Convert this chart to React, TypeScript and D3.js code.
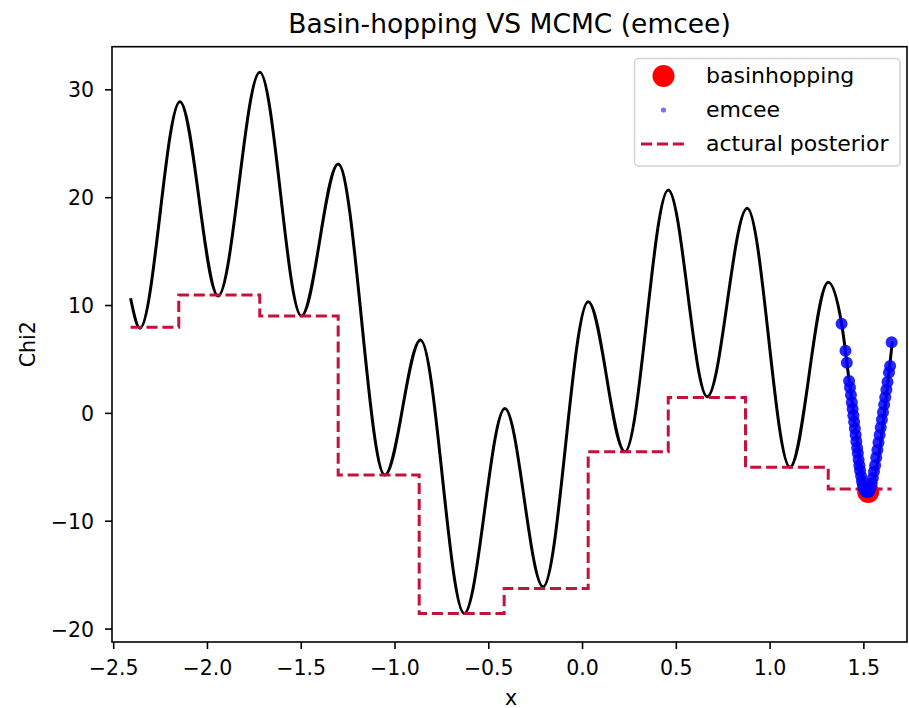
import React from "react";
import * as d3 from "d3";

// Chi2 landscape sampled along x
const curveX = [-2.41, -2.36, -2.147, -1.943, -1.721, -1.499, -1.303, -1.054, -0.864, -0.631, -0.414, -0.21, 0.03, 0.226, 0.457, 0.665, 0.878, 1.106, 1.31, 1.381, 1.426, 1.523, 1.652];
const curveY = [10.67, 7.89, 28.9, 10.88, 31.63, 9.03, 23.13, -5.72, 6.8, -18.55, 0.46, -16.08, 10.35, -3.56, 20.71, 1.54, 19.02, -5.0, 12.15, 8.35, 2.47, -7.3, 6.7];

// Actual posterior: piecewise-constant levels between the edges
const stepEdges = [-2.41, -2.153, -1.721, -1.303, -0.871, -0.418, 0.03, 0.457, 0.869, 1.31, 1.648];
const stepLevels = [7.98, 10.97, 9.02, -5.72, -18.55, -16.23, -3.56, 1.48, -5.0, -7.02];

// Basin-hopping optimum
const bhX = [1.523];
const bhY = [-7.3];

// emcee samples
const emceeX = [1.381, 1.402, 1.409, 1.421, 1.426, 1.431, 1.436, 1.44, 1.444, 1.448, 1.452, 1.456, 1.46, 1.464, 1.468, 1.472, 1.476, 1.48, 1.485, 1.49, 1.495, 1.5, 1.506, 1.512, 1.518, 1.524, 1.53, 1.536, 1.542, 1.548, 1.554, 1.56, 1.566, 1.572, 1.578, 1.584, 1.59, 1.596, 1.602, 1.608, 1.614, 1.62, 1.626, 1.634, 1.64, 1.648];
const emceeY = [8.3, 5.8, 4.7, 3.0, 2.4, 1.7, 1.0, 0.4, -0.2, -0.8, -1.4, -2.0, -2.6, -3.2, -3.7, -4.3, -4.8, -5.3, -5.8, -6.3, -6.7, -7.0, -7.2, -7.3, -7.3, -7.3, -7.2, -6.9, -6.5, -6.0, -5.4, -4.8, -4.1, -3.4, -2.7, -2.0, -1.3, -0.6, 0.1, 0.8, 1.5, 2.2, 2.9, 3.8, 4.4, 6.6];

const xTicks = [-2.5, -2.0, -1.5, -1.0, -0.5, 0.0, 0.5, 1.0, 1.5];
const yTicks = [-20, -10, 0, 10, 20, 30];

const legendLabels = ["basinhopping", "emcee", "actural posterior"];

const W = 909;
const H = 708;
const left = 112;
const right = 907;
const top = 46.7;
const bottom = 642;

const FONT = "'DejaVu Sans', sans-serif";
const STEP_COLOR = "#c4123a";

const fmt = (v: number, digits: number) => {
  const s = Math.abs(v).toFixed(digits);
  return v < 0 ? "\u2212" + s : s;
};

export default function App() {
  const x = d3.scaleLinear().domain([-2.509, 1.73]).range([left, right]);
  const y = d3.scaleLinear().domain([-21.2, 34.0]).range([bottom, top]);

  const curvePts: [number, number][] = curveX.map((v, i) => [v, curveY[i]]);
  const curvePath = d3
    .line<[number, number]>()
    .x((d) => x(d[0]))
    .y((d) => y(d[1]))
    .curve(d3.curveMonotoneX)(curvePts) as string;

  const stepPts: [number, number][] = stepLevels.map((lv, i) => [stepEdges[i], lv]);
  stepPts.push([stepEdges[stepEdges.length - 1], stepLevels[stepLevels.length - 1]]);
  const stepPath = d3
    .line<[number, number]>()
    .x((d) => x(d[0]))
    .y((d) => y(d[1]))
    .curve(d3.curveStepAfter)(stepPts) as string;

  const legX = 634.5;
  const legY = 58.5;
  const rowY = [76, 110, 144];
  const handleX0 = 641;
  const handleX1 = 686;
  const handleMid = (handleX0 + handleX1) / 2;
  const textX = 706;

  return (
    <svg
      width={W}
      height={H}
      viewBox={`0 0 ${W} ${H}`}
      style={{ position: "absolute", left: 0, top: 0, background: "#fff" }}
      fontFamily={FONT}
    >
      <rect x={0} y={0} width={W} height={H} fill="#fff" />
      <defs>
        <clipPath id="plot-clip">
          <rect x={left} y={top} width={right - left} height={bottom - top} />
        </clipPath>
      </defs>

      {/* title */}
      <text x={(left + right) / 2} y={33} textAnchor="middle" fontSize={26.5} fill="#000">
        Basin-hopping VS MCMC (emcee)
      </text>

      <g clipPath="url(#plot-clip)">
        <path d={curvePath} fill="none" stroke="#000" strokeWidth={3} strokeLinejoin="round" />
        <path d={stepPath} fill="none" stroke={STEP_COLOR} strokeWidth={3} strokeDasharray="11.1 4.8" />
        {bhX.map((v, i) => (
          <circle key={`bh${i}`} cx={x(v)} cy={y(bhY[i])} r={11} fill="#ff0000" />
        ))}
        {emceeX.map((v, i) => (
          <circle key={`em${i}`} cx={x(v)} cy={y(emceeY[i])} r={6} fill="#0000ff" fillOpacity={0.85} />
        ))}
      </g>

      {/* spines */}
      <rect x={left} y={top} width={right - left} height={bottom - top} fill="none" stroke="#000" strokeWidth={1.6} />

      {/* x axis */}
      {xTicks.map((t) => (
        <g key={`xt${t}`}>
          <line x1={x(t)} x2={x(t)} y1={bottom} y2={bottom + 7} stroke="#000" strokeWidth={1.6} />
          <text x={x(t)} y={674.5} textAnchor="middle" fontSize={20.5} fill="#000">
            {fmt(t, 1)}
          </text>
        </g>
      ))}
      <text x={511} y={704.5} textAnchor="middle" fontSize={20.5} fill="#000">
        x
      </text>

      {/* y axis */}
      {yTicks.map((t) => (
        <g key={`yt${t}`}>
          <line x1={left - 7} x2={left} y1={y(t)} y2={y(t)} stroke="#000" strokeWidth={1.6} />
          <text x={94} y={y(t) + 7.5} textAnchor="end" fontSize={20.5} fill="#000">
            {fmt(t, 0)}
          </text>
        </g>
      ))}
      <text transform={`translate(35, ${(top + bottom) / 2}) rotate(-90)`} textAnchor="middle" fontSize={20.5} fill="#000">
        Chi2
      </text>

      {/* legend */}
      <g>
        <rect x={legX} y={legY} width={265.5} height={107.5} rx={4} fill="#fff" fillOpacity={0.8} stroke="#d4d4d4" strokeWidth={1.5} />
        <circle cx={handleMid} cy={rowY[0]} r={11} fill="#ff0000" />
        <circle cx={handleMid} cy={rowY[1]} r={2.6} fill="#0000ff" fillOpacity={0.55} />
        <line x1={handleX0} x2={handleX1} y1={rowY[2]} y2={rowY[2]} stroke={STEP_COLOR} strokeWidth={3} strokeDasharray="11.1 4.8" />
        {legendLabels.map((lab, i) => (
          <text key={lab} x={textX} y={rowY[i] + 7} fontSize={22} fill="#000">
            {lab}
          </text>
        ))}
      </g>
    </svg>
  );
}
